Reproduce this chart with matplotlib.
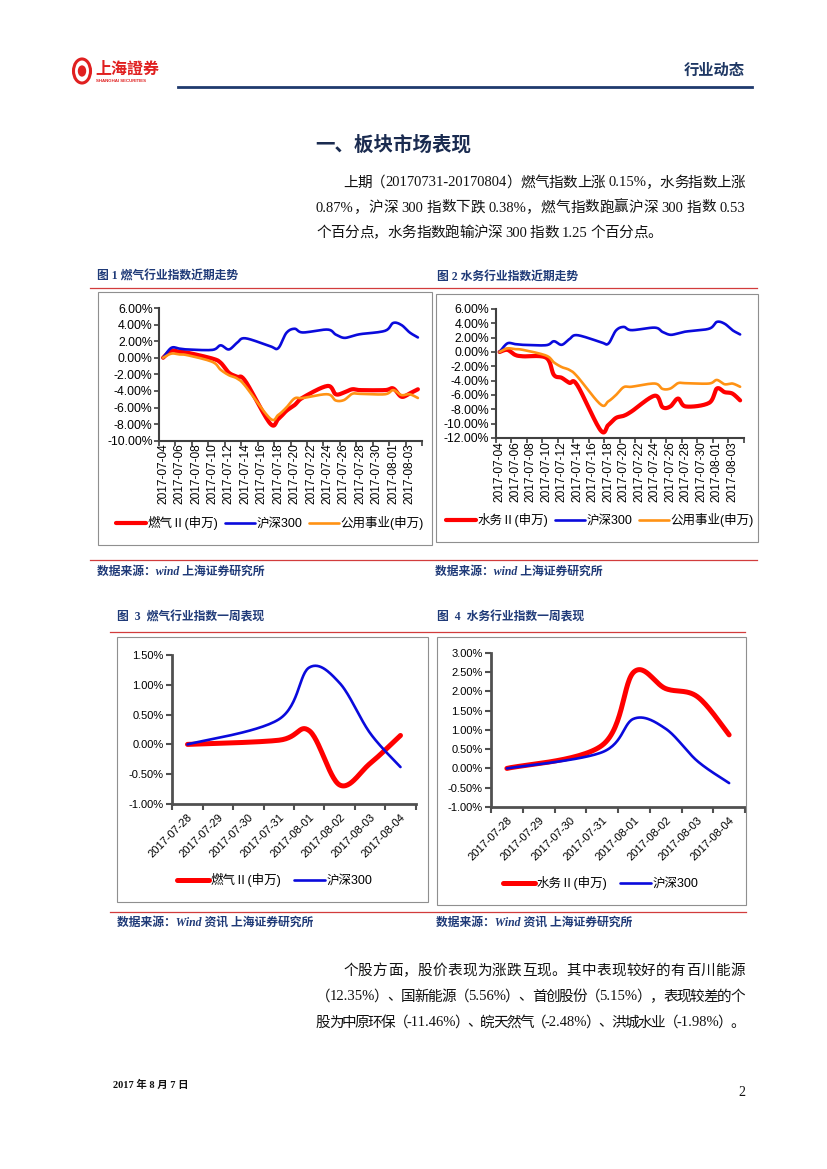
import re

import numpy as np
import pandas as pd
from matplotlib import pyplot as plt
from matplotlib.lines import Line2D
from matplotlib.patches import Rectangle, Circle

plt.rcParams['font.family'] = ['Liberation Sans', 'Noto Sans CJK SC']
plt.rcParams['axes.unicode_minus'] = False

# 月度走势数据（交易日，相对 2017-07-04 的涨跌幅 %）
month_days = ['2017-07-04', '2017-07-05', '2017-07-06', '2017-07-07', '2017-07-10', '2017-07-11',
              '2017-07-12', '2017-07-13', '2017-07-14', '2017-07-17', '2017-07-18', '2017-07-19',
              '2017-07-20', '2017-07-21', '2017-07-24', '2017-07-25', '2017-07-26', '2017-07-27',
              '2017-07-28', '2017-07-31', '2017-08-01', '2017-08-02', '2017-08-03', '2017-08-04']
gas_m = [0.0, 0.85, 0.7, 0.6, -0.1, -0.6, -1.8, -2.3, -2.8, -7.9, -7.4, -6.4,
         -5.7, -4.8, -3.4, -4.4, -4.2, -3.8, -3.9, -3.9, -3.7, -4.7, -4.3, -3.8]
water_m = [0.0, 0.3, -0.4, -0.6, -0.8, -3.2, -3.6, -4.3, -4.6, -10.9, -10.2, -9.2,
           -8.9, -8.3, -6.1, -7.7, -7.6, -6.5, -7.6, -7.1, -5.1, -5.6, -5.8, -6.75]
hs300_m = [0.0, 1.2, 1.1, 1.0, 0.95, 1.5, 1.0, 1.8, 2.35, 1.4, 1.15, 3.0,
           3.5, 3.05, 3.4, 2.8, 2.4, 2.6, 2.85, 3.25, 4.2, 3.95, 3.05, 2.45]
util_m = [0.0, 0.5, 0.4, 0.3, -0.5, -1.45, -2.1, -2.5, -3.4, -7.3, -6.9, -6.0,
          -4.9, -4.85, -4.4, -5.15, -5.1, -4.35, -4.35, -4.4, -3.9, -4.5, -4.4, -4.85]

# 一周表现数据（相对 2017-07-28 的涨跌幅 %）
week_days = ['2017-07-28', '2017-07-31', '2017-08-01', '2017-08-02', '2017-08-03', '2017-08-04']
gas_w = [0.0, 0.07, 0.23, -0.68, -0.32, 0.15]
water_w = [0.0, 0.60, 2.50, 2.07, 1.86, 0.87]
hs300_w = [0.0, 0.42, 1.29, 1.03, 0.19, -0.38]

m_ticks = [-10, -8, -6, -4, -2, 0, 2, 4, 6]
m_ticks2 = [-12, -10, -8, -6, -4, -2, 0, 2, 4, 6]
w_ticks3 = [-1.0, -0.5, 0.0, 0.5, 1.0, 1.5]
w_ticks4 = [-1.0, -0.5, 0.0, 0.5, 1.0, 1.5, 2.0, 2.5, 3.0]

para1 = ['上期（20170731-20170804）燃气指数上涨 0.15%，水务指数上涨',
         '0.87%，沪深 300 指数下跌 0.38%，燃气指数跑赢沪深 300 指数 0.53',
         '个百分点，水务指数跑输沪深 300 指数 1.25 个百分点。']
para2 = ['个股方面，股价表现为涨跌互现。其中表现较好的有百川能源',
         '（12.35%）、国新能源（5.56%）、首创股份（5.15%），表现较差的个',
         '股为中原环保（-11.46%）、皖天然气（-2.48%）、洪城水业（-1.98%）。']

RED = '#FF0000'
BLUE = '#0A0ADC'
ORANGE = '#FF9214'
NAVY = '#1F3A78'
RULE = '#D23C3C'

W, H = 827, 1169
fig = plt.figure(figsize=(8.27, 11.69), dpi=100)
renderer = fig.canvas.get_renderer()


def fx(x):
    return x / W


def fy(y):
    return 1 - y / H


def hline(x0, x1, y, color=RULE, lw=0.9):
    fig.add_artist(Line2D([fx(x0), fx(x1)], [fy(y), fy(y)], transform=fig.transFigure,
                          color=color, lw=lw))


def box(x0, y0, x1, y1):
    fig.add_artist(Rectangle((fx(x0), fy(y1)), fx(x1) - fx(x0), fy(y0) - fy(y1),
                             transform=fig.transFigure, fill=False, edgecolor='#8f8f8f', lw=0.8))


def smooth(xs, ys, n=16):
    """Excel 风格平滑曲线（Catmull-Rom）"""
    pts = np.column_stack([xs, ys]).astype(float)
    ext = np.vstack([pts[0], pts, pts[-1]])
    out = []
    t = np.linspace(0, 1, n, endpoint=False)[:, None]
    for i in range(len(pts) - 1):
        p0, p1, p2, p3 = ext[i], ext[i + 1], ext[i + 2], ext[i + 3]
        c1 = p1 + (p2 - p0) / 6
        c2 = p2 - (p3 - p1) / 6
        out.append((1 - t) ** 3 * p1 + 3 * (1 - t) ** 2 * t * c1 + 3 * (1 - t) * t ** 2 * c2 + t ** 3 * p2)
    out.append(pts[-1:])
    seg = np.vstack(out)
    return seg[:, 0], seg[:, 1]


def justify(s, x0, x1, y, space=3.5, **kw):
    """按词元两端对齐放置一行文字，空格占固定宽度"""
    tokens = re.findall(r'[\x21-\x7e]+|\S| ', s)
    texts = [None if tk == ' ' else fig.text(0, 0, tk, va='center', ha='left', **kw) for tk in tokens]
    widths = [space if t is None else t.get_window_extent(renderer).width for t in texts]
    gap = ((x1 - x0) - sum(widths)) / max(len(tokens) - 1, 1)
    x = x0
    for t, w in zip(texts, widths):
        if t is not None:
            t.set_position((fx(x), fy(y)))
        x += w + gap


def add_axes(l, t, r, b):
    return fig.add_axes([fx(l), fy(b), (r - l) / W, (b - t) / H])


def style_axes(ax, lw, color):
    for s in ['top', 'right']:
        ax.spines[s].set_visible(False)
    for s in ['left', 'bottom']:
        ax.spines[s].set_linewidth(lw)
        ax.spines[s].set_color(color)
    ax.set_facecolor('none')


def day_index(dates, start):
    return (pd.to_datetime(dates) - pd.Timestamp(start)).days.values


# ---------------- 页眉 ----------------
fig.add_artist(Circle((fx(82), fy(71)), 8.5 / W, transform=fig.transFigure,
                      fill=False, edgecolor='#E02020', lw=2.2))
fig.add_artist(Circle((fx(82), fy(71)), 3.5 / W, transform=fig.transFigure,
                      color='#E02020'))
fig.text(fx(95), fy(69), '上海證券', fontsize=11.5, fontweight='bold', color='#E02020',
         family=['Noto Sans CJK TC'], va='center')
fig.text(fx(96), fy(81), 'SHANGHAI SECURITIES', fontsize=3.2, fontweight='bold', color='#E02020',
         va='center')
fig.text(fx(745), fy(70), '行业动态', fontsize=11, fontweight='bold', color='#1F3864',
         ha='right', va='center', family=['Noto Sans CJK SC'])
hline(178, 752, 87, color='#1F3A6E', lw=2.0)

# ---------------- 标题与正文 ----------------
fig.text(fx(393), fy(145), '一、板块市场表现', fontsize=14, fontweight='bold', color='#1A2B50',
         ha='center', va='center', family=['Noto Sans CJK SC'])
body = dict(fontsize=10.5, color='#111111', family=['Liberation Serif', 'Noto Sans CJK SC'])
justify(para1[0], 343, 745, 183, **body)
justify(para1[1], 316, 745, 208, **body)
justify(para1[2], 316, 662, 233, **body)

cap = dict(fontsize=8.5, fontweight='bold', color=NAVY, va='center',
           family=['Liberation Serif', 'Noto Sans CJK SC'])
src = dict(fontsize=8.5, fontweight='bold', style='italic', color=NAVY, va='center',
           family=['Liberation Serif', 'Noto Sans CJK SC'])

fig.text(fx(97), fy(277), '图 1 燃气行业指数近期走势', **cap)
fig.text(fx(437), fy(277), '图 2 水务行业指数近期走势', **cap)
hline(90, 757, 288)
box(98, 292, 432, 545)
box(436, 294, 758, 542)
hline(90, 757, 560)
fig.text(fx(97), fy(572), '数据来源：wind 上海证券研究所', **src)
fig.text(fx(435), fy(572), '数据来源：wind 上海证券研究所', **src)

fig.text(fx(117), fy(618), '图  3  燃气行业指数一周表现', **cap)
fig.text(fx(437), fy(618), '图  4  水务行业指数一周表现', **cap)
hline(110, 745, 632)
box(117, 637, 428, 902)
box(437, 637, 746, 905)
hline(110, 746, 912)
fig.text(fx(117), fy(923), '数据来源：Wind 资讯 上海证券研究所', **src)
fig.text(fx(436), fy(923), '数据来源：Wind 资讯 上海证券研究所', **src)

justify(para2[0], 343, 745, 971, **body)
justify(para2[1], 316, 745, 997, **body)
justify(para2[2], 316, 745, 1023, **body)

fig.text(fx(113), fy(1085), '2017 年 8 月 7 日', fontsize=7.5, fontweight='bold', color='#111111',
         va='center', family=['Liberation Serif', 'Noto Sans CJK SC'])
fig.text(fx(745), fy(1093), '2', fontsize=10, color='#111111', ha='right', va='center',
         family=['Liberation Serif'])

# ---------------- 图1 / 图2 月度走势 ----------------
mx = day_index(month_days, '2017-07-04')
m_labels = pd.date_range('2017-07-04', '2017-08-04').strftime('%Y-%m-%d')


def month_chart(ax, main_vals, main_label, ylim, yticks, legend_xy):
    style_axes(ax, 1.5, '#404040')
    h1, = ax.plot(*smooth(mx, main_vals), color=RED, lw=3.0, solid_capstyle='round')
    h2, = ax.plot(*smooth(mx, hs300_m), color=BLUE, lw=1.9, solid_capstyle='round')
    h3, = ax.plot(*smooth(mx, util_m), color=ORANGE, lw=1.9, solid_capstyle='round')
    h1.set_zorder(1)
    ax.set_xlim(-0.5, len(m_labels) - 0.5)
    ax.set_ylim(*ylim)
    ax.set_yticks(yticks)
    ax.set_yticklabels([f'{v:.2f}%' for v in yticks], fontsize=8.8)
    ax.set_xticks(np.arange(0, len(m_labels), 2))
    ax.set_xticklabels(m_labels[::2], rotation=90, fontsize=8.6)
    ax.set_xticks(np.arange(-0.5, len(m_labels), 2), minor=True)
    ax.tick_params(axis='x', which='major', length=0, pad=2)
    ax.tick_params(axis='x', which='minor', length=3.5, width=1.2, color='#404040', direction='out')
    ax.tick_params(axis='y', length=3.5, width=1.2, color='#404040', direction='out', pad=1)
    ax.legend([h1, h2, h3], [main_label, '沪深300', '公用事业(申万)'], loc='center',
              bbox_to_anchor=(fx(legend_xy[0]), fy(legend_xy[1])), bbox_transform=fig.transFigure,
              ncol=3, frameon=False, fontsize=9, handlelength=2.4, handletextpad=0.15,
              columnspacing=0.5, borderaxespad=0)


ax1 = add_axes(159, 308, 422, 440.7)
month_chart(ax1, gas_m, '燃气Ⅱ(申万)', (-10, 6), m_ticks, (270, 523))
ax2 = add_axes(495.7, 309, 744, 438)
month_chart(ax2, water_m, '水务Ⅱ(申万)', (-12, 6), m_ticks2, (600, 520))

# ---------------- 图3 / 图4 一周表现 ----------------
wx = day_index(week_days, '2017-07-28')
w_labels = pd.date_range('2017-07-28', '2017-08-04').strftime('%Y-%m-%d')


def week_chart(ax, main_vals, main_label, ylim, yticks, legend_xy):
    style_axes(ax, 2.0, '#505050')
    h1, = ax.plot(*smooth(wx, main_vals, 30), color=RED, lw=3.6, solid_capstyle='round')
    h2, = ax.plot(*smooth(wx, hs300_w, 30), color=BLUE, lw=1.9, solid_capstyle='round')
    ax.set_xlim(-0.5, len(w_labels) - 0.5)
    ax.set_ylim(*ylim)
    ax.set_yticks(yticks)
    ax.set_yticklabels([f'{v:.2f}%' for v in yticks], fontsize=8)
    ax.set_xticks(np.arange(len(w_labels)))
    ax.set_xticklabels(w_labels, rotation=45, ha='right', rotation_mode='anchor', fontsize=8)
    ax.set_xticks(np.arange(-0.5, len(w_labels), 1), minor=True)
    ax.tick_params(axis='x', which='major', length=0, pad=6)
    ax.tick_params(axis='x', which='minor', length=4, width=1.5, color='#505050', direction='out')
    ax.tick_params(axis='y', length=4, width=1.5, color='#505050', direction='out', pad=2)
    ax.legend([h1, h2], [main_label, '沪深300'], loc='center',
              bbox_to_anchor=(fx(legend_xy[0]), fy(legend_xy[1])), bbox_transform=fig.transFigure,
              ncol=2, frameon=False, fontsize=9, handlelength=2.5, handletextpad=0.15,
              columnspacing=1.0, borderaxespad=0)


ax3 = add_axes(172.3, 655, 415.7, 804)
week_chart(ax3, gas_w, '燃气Ⅱ(申万)', (-1.0, 1.5), w_ticks3, (275, 880))
ax4 = add_axes(491, 652.7, 745, 807)
week_chart(ax4, water_w, '水务Ⅱ(申万)', (-1.0, 3.0), w_ticks4, (601, 883))

plt.savefig('out.png', dpi=100)
plt.close()
